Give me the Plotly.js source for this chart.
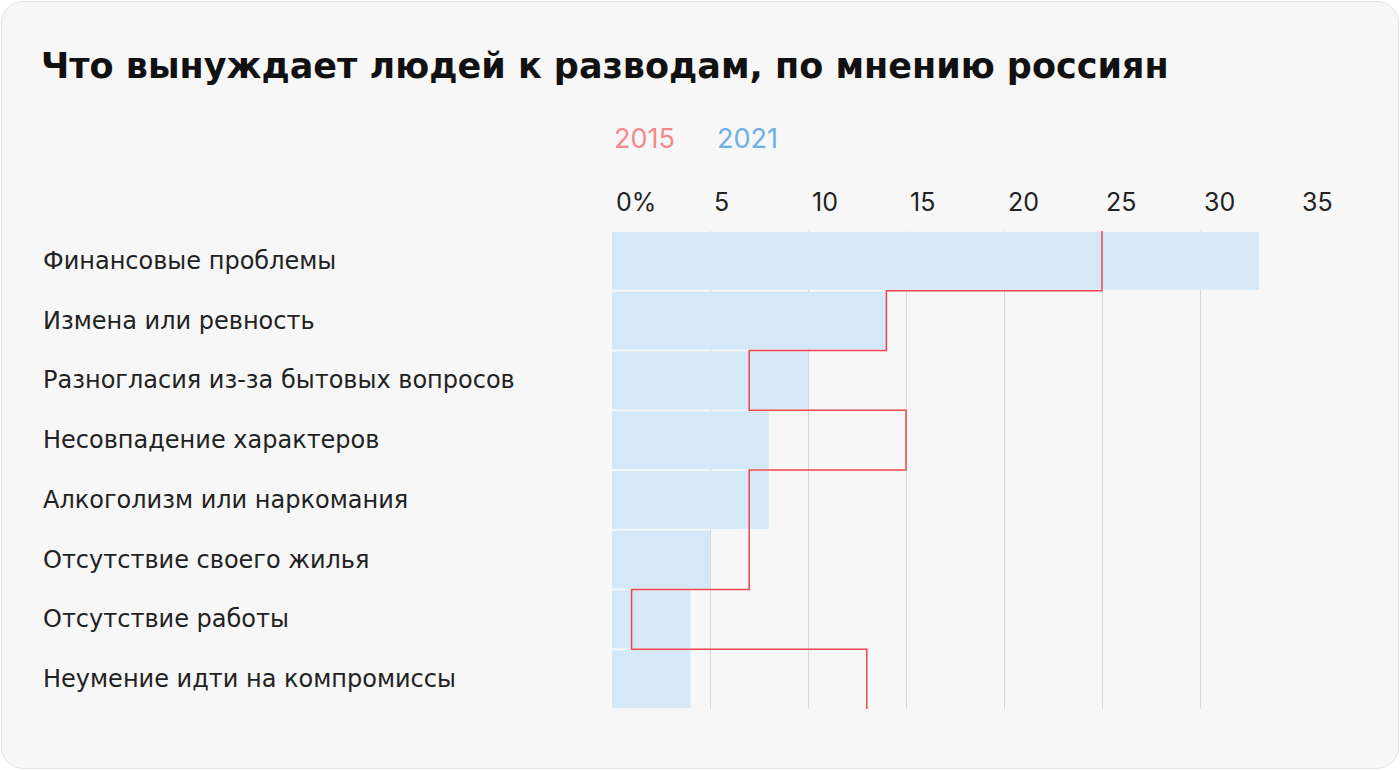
<!DOCTYPE html>
<html>
<head>
<meta charset="utf-8">
<script src="https://cdn.plot.ly/plotly-3.0.1.min.js"></script>
<style>
  body { margin: 0; background: #fff; font-family: Inter, Roboto, sans-serif; }
  #card { position: absolute; left: 1px; top: 1px; width: 1396px; height: 766px;
          background: #f7f7f7; border: 1px solid #e3e3e3; border-radius: 22px; }
  #plot { position: absolute; left: 0; top: 0; width: 1400px; height: 770px; }
</style>
</head>
<body>
<div id="card"></div>
<div id="plot"></div>
<script>
const categories = [
  "Финансовые проблемы",
  "Измена или ревность",
  "Разногласия из-за бытовых вопросов",
  "Несовпадение характеров",
  "Алкоголизм или наркомания",
  "Отсутствие своего жилья",
  "Отсутствие работы",
  "Неумение идти на компромиссы"
]
const values2021 = [33, 14, 10, 8, 8, 5, 4, 4]
const values2015 = [25, 14, 7, 15, 7, 7, 1, 13]
const tickValues = [0, 5, 10, 15, 20, 25, 30, 35]
const tickLabels = ["0%", "5", "10", "15", "20", "25", "30", "35"]

const idx = categories.map((c, i) => i)

// step line for 2015: vertical segment across each category band
let stepX = []
let stepY = []
values2015.forEach((v, i) => {
  stepX.push(v, v)
  stepY.push(i - 0.5, i + 0.5)
})

const bars = {
  type: 'bar', orientation: 'h',
  x: values2021, y: idx, width: 0.97,
  marker: {color: '#d4e8f7'},
  hoverinfo: 'skip'
}

const line2015 = {
  type: 'scatter', mode: 'lines',
  x: stepX, y: stepY,
  line: {color: '#f0454d', width: 1.5},
  hoverinfo: 'skip'
}

const fontFam = 'Inter, Roboto, sans-serif'
const wideFam = '"DejaVu Sans", sans-serif'
let annotations = []
tickValues.forEach((t, i) => {
  annotations.push({
    x: t, y: 1, xref: 'x', yref: 'paper', yanchor: 'bottom', xanchor: 'left',
    xshift: 2, yshift: 12, showarrow: false, text: tickLabels[i],
    font: {family: fontFam, size: 25, color: '#222'}
  })
})
categories.forEach((c, i) => {
  annotations.push({
    x: (41 - 612) / 686, xref: 'paper', y: i, yref: 'y', xanchor: 'left',
    showarrow: false, text: c,
    font: {family: wideFam, size: 24, color: '#222'}
  })
})
annotations.push({
  x: 0, xref: 'x', y: 1, yref: 'paper', xanchor: 'left', yanchor: 'bottom', yshift: 74,
  showarrow: false, text: '2015', font: {family: fontFam, size: 27, color: '#f28a8e'}
})
annotations.push({
  x: 5.25, xref: 'x', y: 1, yref: 'paper', xanchor: 'left', yanchor: 'bottom', yshift: 74,
  showarrow: false, text: '2021', font: {family: fontFam, size: 27, color: '#6cb0e6'}
})

const layout = {
  width: 1400, height: 770,
  paper_bgcolor: 'rgba(0,0,0,0)', plot_bgcolor: 'rgba(0,0,0,0)',
  margin: {l: 612, r: 102, t: 231, b: 61},
  showlegend: false,
  title: {
    text: '<b>Что вынуждает людей к разводам, по мнению россиян</b>',
    x: 41 / 1400, xanchor: 'left', y: 0.915, yanchor: 'middle',
    font: {family: wideFam, size: 35, color: '#111'}
  },
  xaxis: {
    range: [0, 35], tickvals: tickValues, showticklabels: false,
    showgrid: true, gridcolor: '#d9d9d9', gridwidth: 1, zeroline: false, fixedrange: true
  },
  yaxis: {
    range: [7.5, -0.5], showticklabels: false, showgrid: false, zeroline: false, fixedrange: true
  },
  annotations: annotations
}

Plotly.newPlot('plot', [bars, line2015], layout, {displayModeBar: false, staticPlot: true})
</script>
</body>
</html>
